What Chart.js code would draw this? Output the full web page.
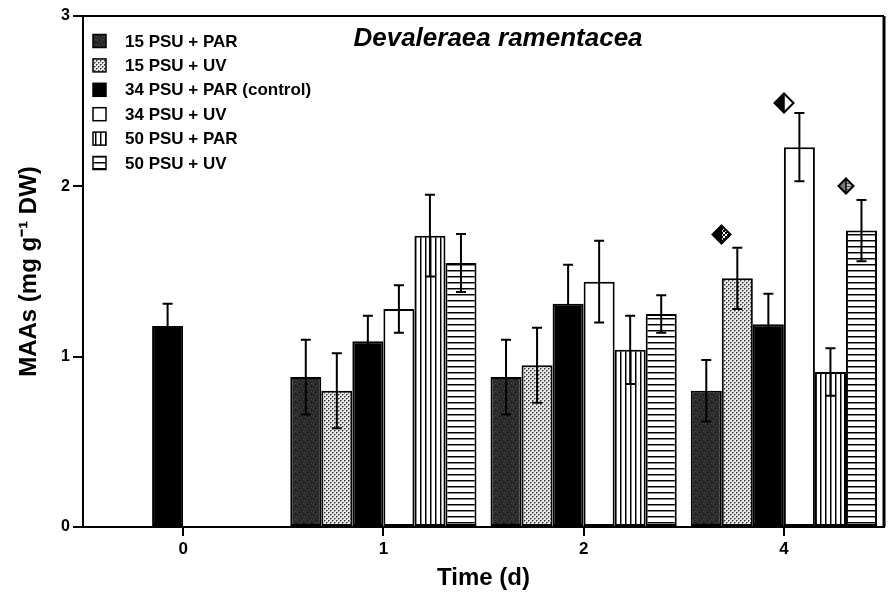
<!DOCTYPE html>
<html>
<head>
<meta charset="utf-8">
<script src="https://cdn.jsdelivr.net/npm/chart.js@4.4.1/dist/chart.umd.min.js"></script>
<style>
html, body { margin: 0; padding: 0; background: #fff; }
</style>
</head>
<body>
<canvas id="myChart" width="890" height="596"></canvas>
<script>
// Jours de prélèvement (axe X)
const days = ['0', '1', '2', '4'];
const seriesNames = ['15 PSU + PAR', '15 PSU + UV', '34 PSU + PAR (control)', '34 PSU + UV', '50 PSU + PAR', '50 PSU + UV'];

// Moyennes MAAs (mg g-1 DW)
const psu15Par = [null, 0.88, 0.88, 0.80];
const psu15Uv  = [null, 0.80, 0.95, 1.46];
const psu34Par = [1.18, 1.09, 1.31, 1.19];
const psu34Uv  = [null, 1.28, 1.44, 2.23];
const psu50Par = [null, 1.71, 1.04, 0.91];
const psu50Uv  = [null, 1.55, 1.25, 1.74];

// Erreurs standard
const se15Par = [null, 0.22, 0.22, 0.18];
const se15Uv  = [null, 0.22, 0.22, 0.18];
const se34Par = [0.13, 0.15, 0.23, 0.18];
const se34Uv  = [null, 0.14, 0.24, 0.20];
const se50Par = [null, 0.24, 0.20, 0.14];
const se50Uv  = [null, 0.17, 0.11, 0.18];

// Losanges de significativité (jour 4) : série marquée et hauteur
const markDay = '4';
const markSeries = ['15 PSU + UV', '34 PSU + UV', '50 PSU + UV'];
const markY = [1.72, 2.49, 2.00];

const FONT = '"Liberation Sans", Arial, Helvetica, sans-serif';
const canvas = document.getElementById('myChart');
const mainCtx = canvas.getContext('2d');

// Petites tuiles pour les hachures
function tile(w, h, draw) {
    const c = document.createElement('canvas');
    c.width = w; c.height = h;
    draw(c.getContext('2d'));
    return mainCtx.createPattern(c, 'repeat');
}

const darkFill = tile(8, 8, g => {
    g.fillStyle = '#2a2a2a'; g.fillRect(0, 0, 8, 8);
    g.fillStyle = '#4a4a4a';
    [[1, 0], [5, 1], [3, 2], [0, 4], [6, 4], [2, 5], [4, 6], [7, 7], [1, 7]].forEach(p => g.fillRect(p[0], p[1], 1, 1));
    g.fillStyle = '#151515';
    [[3, 0], [7, 2], [1, 3], [5, 5], [3, 7]].forEach(p => g.fillRect(p[0], p[1], 1, 1));
});
const dotFill = tile(4, 4, g => {
    g.fillStyle = '#e8e8e8'; g.fillRect(0, 0, 4, 4);
    g.fillStyle = '#333';
    g.fillRect(0, 0, 1, 1); g.fillRect(2, 2, 1, 1);
    g.fillStyle = '#888';
    g.fillRect(1, 0, 1, 1); g.fillRect(3, 2, 1, 1);
    g.fillRect(0, 1, 1, 1); g.fillRect(2, 3, 1, 1);
});
const vLines = tile(5, 4, g => {
    g.fillStyle = '#fff'; g.fillRect(0, 0, 5, 4);
    g.fillStyle = '#000'; g.fillRect(0, 0, 1, 4);
    g.fillStyle = '#888'; g.fillRect(1, 0, 1, 4);
});
const hLines = tile(4, 6, g => {
    g.fillStyle = '#fff'; g.fillRect(0, 0, 4, 6);
    g.fillStyle = '#000'; g.fillRect(0, 0, 4, 1);
    g.fillStyle = '#888'; g.fillRect(0, 1, 4, 1);
});

// Losanges (moitié gauche / moitié droite)
function diamond(size, leftFill, rightFill) {
    const c = document.createElement('canvas');
    c.width = size; c.height = size;
    const g = c.getContext('2d');
    const h = size / 2, e = 1.5;
    const fillOf = f => (typeof f === 'function' ? f(g) : f);
    g.beginPath(); g.moveTo(h, e); g.lineTo(e, h); g.lineTo(h, size - e); g.closePath();
    g.fillStyle = fillOf(leftFill); g.fill();
    g.beginPath(); g.moveTo(h, e); g.lineTo(size - e, h); g.lineTo(h, size - e); g.closePath();
    g.fillStyle = fillOf(rightFill); g.fill();
    g.beginPath(); g.moveTo(h, e); g.lineTo(size - e, h); g.lineTo(h, size - e); g.lineTo(e, h); g.closePath();
    g.lineWidth = 2; g.strokeStyle = '#000'; g.stroke();
    g.beginPath(); g.moveTo(h, e); g.lineTo(h, size - e); g.lineWidth = 1.5; g.stroke();
    return c;
}
function checker(g) {
    const t = document.createElement('canvas'); t.width = 4; t.height = 4;
    const tg = t.getContext('2d');
    tg.fillStyle = '#000'; tg.fillRect(0, 0, 4, 4);
    tg.fillStyle = '#fff'; tg.fillRect(0, 0, 2, 2); tg.fillRect(2, 2, 2, 2);
    return g.createPattern(t, 'repeat');
}
function greyStripes(g) {
    const t = document.createElement('canvas'); t.width = 3; t.height = 3;
    const tg = t.getContext('2d');
    tg.fillStyle = '#bbb'; tg.fillRect(0, 0, 3, 3);
    tg.fillStyle = '#555'; tg.fillRect(0, 0, 3, 1);
    return g.createPattern(t, 'repeat');
}
const markSymbols = [
    diamond(21, '#000', checker),
    diamond(22, '#000', '#fff'),
    diamond(18, '#777', greyStripes)
];

// Barres d'erreur
const errors = [se15Par, se15Uv, se34Par, se34Uv, se50Par, se50Uv];
const errorBars = {
    id: 'errorBars',
    afterDatasetsDraw(chart) {
        const ctx = chart.ctx;
        const yScale = chart.scales.y;
        ctx.save();
        ctx.strokeStyle = '#000';
        ctx.lineWidth = 2;
        errors.forEach((se, i) => {
            const meta = chart.getDatasetMeta(i);
            const values = chart.data.datasets[i].data;
            meta.data.forEach((bar, j) => {
                if (values[j] == null || se[j] == null) return;
                const yHi = yScale.getPixelForValue(values[j] + se[j]);
                const yLo = yScale.getPixelForValue(values[j] - se[j]);
                ctx.beginPath();
                ctx.moveTo(bar.x, yHi); ctx.lineTo(bar.x, yLo);
                ctx.moveTo(bar.x - 5, yHi); ctx.lineTo(bar.x + 5, yHi);
                ctx.moveTo(bar.x - 5, yLo); ctx.lineTo(bar.x + 5, yLo);
                ctx.stroke();
            });
        });

        // Losanges au bord gauche de la barre concernée
        const dayIndex = chart.data.labels.indexOf(markDay);
        markSeries.forEach((name, k) => {
            const dsIndex = seriesNames.indexOf(name);
            const bar = chart.getDatasetMeta(dsIndex).data[dayIndex];
            const img = markSymbols[k];
            const cx = bar.x - bar.width / 2;
            const cy = yScale.getPixelForValue(markY[k]);
            ctx.drawImage(img, Math.round(cx - img.width / 2), Math.round(cy - img.height / 2));
        });
        ctx.restore();
    }
};

// Cadre, titre et légende dans la zone du graphique
const decor = {
    id: 'decor',
    afterDraw(chart) {
        const ctx = chart.ctx;
        const a = chart.chartArea;
        ctx.save();
        ctx.strokeStyle = '#000';
        ctx.lineWidth = 2;
        ctx.beginPath();
        ctx.moveTo(a.left, a.top); ctx.lineTo(a.right, a.top);
        ctx.stroke();
        ctx.lineWidth = 3;
        ctx.beginPath();
        ctx.moveTo(a.right, a.top); ctx.lineTo(a.right, a.bottom);
        ctx.stroke();

        ctx.fillStyle = '#000';
        ctx.textAlign = 'center';
        ctx.textBaseline = 'middle';
        ctx.font = 'italic bold 26px ' + FONT;
        ctx.fillText('Devaleraea ramentacea', 498, a.top + 23);

        ctx.textAlign = 'left';
        ctx.font = 'bold 17px ' + FONT;
        const x0 = a.left + 10;
        seriesNames.forEach((name, i) => {
            const y = a.top + 25 + i * 24.4;
            ctx.fillStyle = chart.data.datasets[i].backgroundColor;
            ctx.fillRect(x0, y - 6.5, 13, 13);
            ctx.lineWidth = 1.5;
            ctx.strokeRect(x0, y - 6.5, 13, 13);
            ctx.fillStyle = '#000';
            ctx.fillText(name, x0 + 32, y + 1);
        });
        ctx.restore();
    }
};

function barSet(label, data, fill) {
    return {
        label: label,
        data: data,
        backgroundColor: fill,
        borderColor: '#000',
        borderWidth: 2,
        borderSkipped: false
    };
}

const chart = new Chart(mainCtx, {
    type: 'bar',
    data: {
        labels: days,
        datasets: [
            barSet(seriesNames[0], psu15Par, darkFill),
            barSet(seriesNames[1], psu15Uv, dotFill),
            barSet(seriesNames[2], psu34Par, '#000'),
            barSet(seriesNames[3], psu34Uv, '#fff'),
            barSet(seriesNames[4], psu50Par, vLines),
            barSet(seriesNames[5], psu50Uv, hLines)
        ]
    },
    options: {
        responsive: false,
        animation: false,
        devicePixelRatio: 1,
        categoryPercentage: 0.93,
        barPercentage: 1.0,
        layout: { padding: { top: 16, right: 6, left: 0, bottom: 0 } },
        plugins: {
            legend: { display: false },
            tooltip: { enabled: false }
        },
        scales: {
            x: {
                offset: true,
                grid: { display: true, offset: false, drawOnChartArea: false, drawTicks: true, tickLength: 9, color: '#000', lineWidth: 2 },
                border: { display: true, color: '#000', width: 2 },
                ticks: { color: '#000', font: { family: FONT, size: 17, weight: 'bold' }, padding: 3 },
                title: { display: true, text: 'Time (d)', color: '#000', font: { family: FONT, size: 24, weight: 'bold' }, padding: { top: 0, bottom: 3 } },
                afterFit(scale) { scale.height = 69; }
            },
            y: {
                min: 0,
                max: 3,
                grid: { display: true, drawOnChartArea: false, drawTicks: true, tickLength: 10, color: '#000', lineWidth: 2 },
                border: { display: true, color: '#000', width: 2 },
                ticks: { stepSize: 1, color: '#000', font: { family: FONT, size: 16, weight: 'bold' }, padding: 3 },
                title: { display: true, text: 'MAAs (mg g\u207B\u00B9 DW)', color: '#000', font: { family: FONT, size: 24, weight: 'bold' }, padding: { top: 15, bottom: 0 } },
                afterFit(scale) { scale.width = 83; }
            }
        }
    },
    plugins: [errorBars, decor]
});
</script>
</body>
</html>
